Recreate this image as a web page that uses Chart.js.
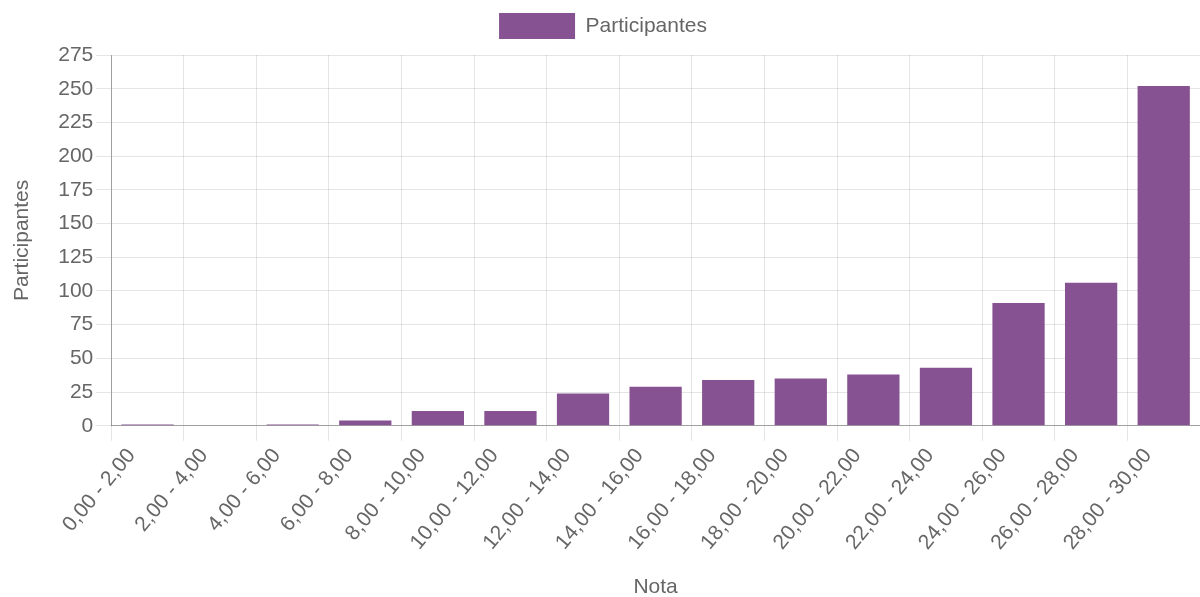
<!DOCTYPE html>
<html lang="es">
<head>
    <meta charset="UTF-8">
    <title>Participantes por nota</title>
    <script src="https://cdn.jsdelivr.net/npm/chart.js"></script>
    <style>
        body {
            margin: 0;
            background-color: #ffffff;
        }
        .chart-box {
            width: 1200px;
            height: 597px;
            position: relative;
        }
    </style>
</head>
<body>
    <div class="chart-box">
        <canvas id="notasChart"></canvas>
    </div>

    <script>
        // Rangos de nota y participantes
        const rangos = ['0,00 - 2,00', '2,00 - 4,00', '4,00 - 6,00', '6,00 - 8,00', '8,00 - 10,00',
            '10,00 - 12,00', '12,00 - 14,00', '14,00 - 16,00', '16,00 - 18,00', '18,00 - 20,00',
            '20,00 - 22,00', '22,00 - 24,00', '24,00 - 26,00', '26,00 - 28,00', '28,00 - 30,00'];
        const participantes = [1, 0, 1, 4, 11, 11, 24, 29, 34, 35, 38, 43, 91, 106, 252];

        const fuente = "'Liberation Sans', Arial, sans-serif";
        const gris = '#666';
        const tam = 21;

        // un poco mas de espacio debajo de la leyenda
        const margenLeyenda = {
            id: 'margenLeyenda',
            beforeInit(chart) {
                const fitOriginal = chart.legend.fit;
                chart.legend.fit = function () {
                    fitOriginal.bind(chart.legend)();
                    this.height += 6;
                };
            }
        };

        const config = {
            type: 'bar',
            data: {
                labels: rangos,
                datasets: [{
                    label: 'Participantes',
                    data: participantes,
                    backgroundColor: 'rgb(134, 82, 145)',
                    borderColor: 'rgb(134, 82, 145)',
                    borderWidth: 0
                }]
            },
            options: {
                responsive: true,
                maintainAspectRatio: false,
                animation: false,
                layout: {
                    padding: { top: 0, right: 0, bottom: 0, left: 6 }
                },
                plugins: {
                    legend: {
                        labels: {
                            boxWidth: 76,
                            boxHeight: 26,
                            color: gris,
                            padding: 13,
                            font: { family: fuente, size: tam }
                        }
                    },
                    tooltip: { enabled: false }
                },
                scales: {
                    x: {
                        grid: { color: 'rgba(0,0,0,0.1)', tickLength: 15 },
                        border: { color: 'rgba(0,0,0,0.3)' },
                        ticks: {
                            color: gris,
                            minRotation: 50,
                            maxRotation: 50,
                            labelOffset: -16,
                            font: { family: fuente, size: tam }
                        },
                        title: {
                            display: true,
                            text: 'Nota',
                            color: gris,
                            padding: { top: 17, bottom: -3 },
                            font: { family: fuente, size: tam }
                        }
                    },
                    y: {
                        beginAtZero: true,
                        max: 275,
                        grid: { color: 'rgba(0,0,0,0.1)', tickLength: 15 },
                        border: { color: 'rgba(0,0,0,0.3)' },
                        ticks: {
                            stepSize: 25,
                            color: gris,
                            font: { family: fuente, size: tam }
                        },
                        title: {
                            display: true,
                            text: 'Participantes',
                            color: gris,
                            padding: { top: 4, bottom: 20 },
                            font: { family: fuente, size: tam }
                        }
                    }
                }
            },
            plugins: [margenLeyenda]
        };

        new Chart(document.getElementById('notasChart'), config);
    </script>
</body>
</html>
